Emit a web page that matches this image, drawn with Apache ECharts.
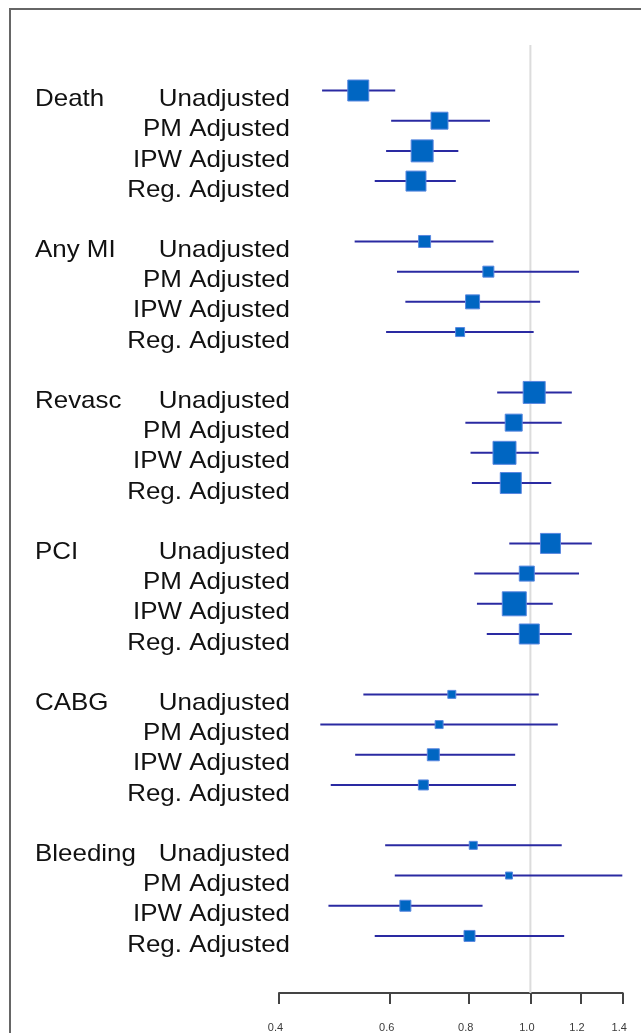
<!DOCTYPE html>
<html>
<head>
<meta charset="utf-8">
<script src="https://cdn.jsdelivr.net/npm/echarts@6/dist/echarts.min.js"></script>
<style>
  html, body { margin: 0; padding: 0; background: #ffffff; }
  #chart { width: 641px; height: 1033px; }
</style>
</head>
<body>
<div id="chart"></div>
<script>
// ---- data ----
const groups = ['Death', 'Any MI', 'Revasc', 'PCI', 'CABG', 'Bleeding'];
const methods = ['Unadjusted', 'PM Adjusted', 'IPW Adjusted', 'Reg. Adjusted'];

// estimate (ratio) per group x method, in the order of groups/methods
const estimate = [
  0.534, 0.718, 0.674, 0.659,
  0.680, 0.858, 0.810, 0.774,
  1.014, 0.941, 0.910, 0.931,
  1.076, 0.987, 0.943, 0.996,
  0.751, 0.717, 0.702, 0.677,
  0.812, 0.925, 0.634, 0.801
];
const lower = [
  0.468, 0.602, 0.591, 0.567,
  0.527, 0.615, 0.634, 0.591,
  0.886, 0.789, 0.804, 0.808,
  0.926, 0.815, 0.823, 0.853,
  0.544, 0.465, 0.528, 0.483,
  0.589, 0.610, 0.479, 0.567
];
const upper = [
  0.611, 0.863, 0.769, 0.762,
  0.874, 1.194, 1.036, 1.012,
  1.163, 1.121, 1.031, 1.079,
  1.251, 1.194, 1.085, 1.163,
  1.031, 1.105, 0.946, 0.949,
  1.121, 1.398, 0.840, 1.131
];
// relative study weight (drives box size)
const weights = [
  21, 17, 22, 20,
  12, 11, 14, 9,
  22, 17, 23, 21,
  20, 15, 24, 20,
  8, 8, 12, 10,
  8, 7, 11, 11
];

const tickValues = [0.4, 0.6, 0.8, 1.0, 1.2, 1.4];
const tickLabels = ['0.4', '0.6', '0.8', '1.0', '1.2', '1.4'];
const referenceValue = 1.0;

// ---- build ----
const ROWS_PER_GROUP = methods.length + 1; // one blank row between groups
const BOX_SCALE = 1.0;
const FONT = '"Liberation Sans", Arial, sans-serif';

const ciData = [];
const boxData = [];
const labelData = [];
groups.forEach(function (g, gi) {
  methods.forEach(function (m, mi) {
    const idx = gi * methods.length + mi;
    const row = gi * ROWS_PER_GROUP + mi;
    ciData.push([lower[idx], upper[idx], row]);
    boxData.push([estimate[idx], row, weights[idx]]);
    labelData.push([tickValues[0], row, gi, mi]);
  });
});
const lastRow = (groups.length - 1) * ROWS_PER_GROUP + methods.length - 1;
const Y_MIN = -1.507;
const Y_MAX = lastRow + 1.89;

const chart = echarts.init(document.getElementById('chart'), null, { renderer: 'canvas' });

const option = {
  animation: false,
  backgroundColor: '#ffffff',
  grid: { left: 279, right: 18.3, top: 45, bottom: 40, containLabel: false },
  xAxis: {
    type: 'log',
    logBase: 10,
    position: 'bottom',
    min: tickValues[0],
    max: tickValues[tickValues.length - 1],
    axisLine: { show: true, onZero: false, lineStyle: { color: '#444444', width: 2 } },
    axisTick: { show: true, length: 11, lineStyle: { color: '#444444', width: 2 }, customValues: tickValues },
    axisLabel: {
      customValues: tickValues,
      margin: 29,
      fontSize: 11,
      color: '#3a3a3a',
      fontFamily: FONT,
      padding: [0, 7, 0, 0],
      formatter: function (v) {
        let best = 0;
        tickValues.forEach(function (t, i) {
          if (Math.abs(t - v) < Math.abs(tickValues[best] - v)) best = i;
        });
        return tickLabels[best];
      }
    },
    splitLine: { show: false },
    minorTick: { show: false }
  },
  yAxis: {
    type: 'value',
    inverse: true,
    min: Y_MIN,
    max: Y_MAX,
    show: false,
    splitLine: { show: false }
  },
  graphic: [
    {
      type: 'rect',
      shape: { x: 10, y: 9, width: 700, height: 1100 },
      style: { fill: 'none', stroke: '#666666', lineWidth: 2 },
      silent: true,
      z: 0
    }
  ],
  series: [
    {
      // reference line at 1.0
      type: 'custom',
      z: 1,
      silent: true,
      clip: false,
      data: [[referenceValue, Y_MIN, Y_MAX]],
      encode: { x: 0, y: [1, 2] },
      renderItem: function (params, api) {
        const p1 = api.coord([api.value(0), api.value(1)]);
        const p2 = api.coord([api.value(0), api.value(2)]);
        return {
          type: 'line',
          shape: { x1: p1[0], y1: p1[1], x2: p2[0], y2: p2[1] },
          style: { stroke: '#dcdcdc', lineWidth: 2 }
        };
      }
    },
    {
      type: 'custom',
      z: 3,
      clip: false,
      data: ciData,
      encode: { x: [0, 1], y: 2 },
      renderItem: function (params, api) {
        const p1 = api.coord([api.value(0), api.value(2)]);
        const p2 = api.coord([api.value(1), api.value(2)]);
        return {
          type: 'line',
          shape: { x1: p1[0], y1: p1[1], x2: p2[0], y2: p2[1] },
          style: { stroke: '#2a2aa2', lineWidth: 2 }
        };
      }
    },
    {
      type: 'scatter',
      z: 4,
      data: boxData,
      symbol: 'rect',
      symbolSize: function (v) { return v[2] * BOX_SCALE; },
      itemStyle: { color: '#0066c2', borderColor: '#5a88e0', borderWidth: 1, opacity: 1 },
      emphasis: { disabled: true }
    },
    {
      type: 'custom',
      z: 5,
      clip: false,
      silent: true,
      data: labelData,
      encode: { x: 0, y: 1 },
      renderItem: function (params, api) {
        const p = api.coord([api.value(0), api.value(1)]);
        const gi = api.value(2);
        const mi = api.value(3);
        const y = p[1] + 9;
        const children = [
          {
            type: 'text',
            x: p[0] + 11,
            y: y,
            scaleX: 1.08,
            style: {
              text: methods[mi],
              font: '24px ' + FONT,
              fill: '#111111',
              align: 'right',
              verticalAlign: 'middle'
            }
          }
        ];
        if (mi === 0) {
          children.push({
            type: 'text',
            x: 35,
            y: y,
            scaleX: 1.08,
            style: {
              text: groups[gi],
              font: '24px ' + FONT,
              fill: '#111111',
              align: 'left',
              verticalAlign: 'middle'
            }
          });
        }
        return { type: 'group', children: children };
      }
    }
  ]
};

chart.setOption(option);
</script>
</body>
</html>
